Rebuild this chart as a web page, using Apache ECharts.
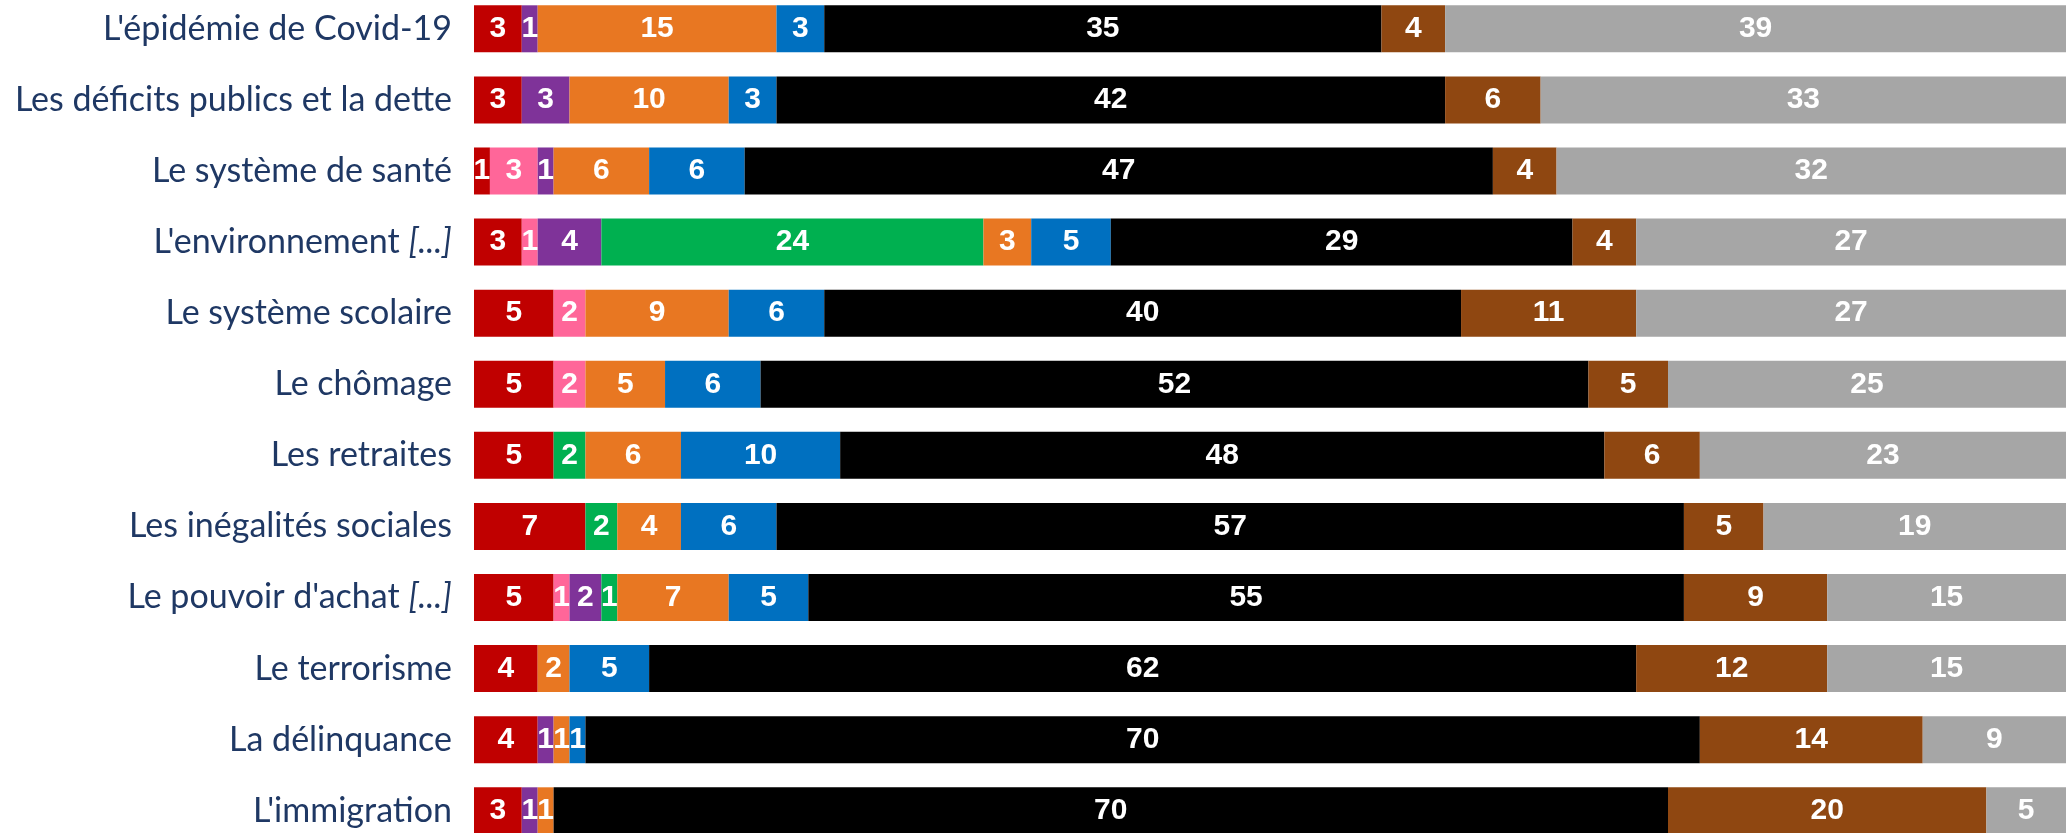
<!DOCTYPE html>
<html>
<head>
<meta charset="utf-8">
<script src="https://cdn.jsdelivr.net/npm/echarts@6/dist/echarts.min.js"></script>
<style>
html,body{margin:0;padding:0;background:#fff;}
#chart{width:2066px;height:833px;}
</style>
</head>
<body>
<div id="chart"></div>
<script>
const categories = [
  "L'épidémie de Covid-19",
  "Les déficits publics et la dette",
  "Le système de santé",
  "L'environnement [...]",
  "Le système scolaire",
  "Le chômage",
  "Les retraites",
  "Les inégalités sociales",
  "Le pouvoir d'achat [...]",
  "Le terrorisme",
  "La délinquance",
  "L'immigration"
];
const seriesNames = ["Rouge", "Rose", "Violet", "Vert", "Orange", "Bleu", "Noir", "Marron", "Gris"];
const red    = [3, 3, 1, 3, 5, 5, 5, 7, 5, 4, 4, 3];
const pink   = [0, 0, 3, 1, 2, 2, 0, 0, 1, 0, 0, 0];
const purple = [1, 3, 1, 4, 0, 0, 0, 0, 2, 0, 1, 1];
const green  = [0, 0, 0, 24, 0, 0, 2, 2, 1, 0, 0, 0];
const orange = [15, 10, 6, 3, 9, 5, 6, 4, 7, 2, 1, 1];
const blue   = [3, 3, 6, 5, 6, 6, 10, 6, 5, 5, 1, 0];
const black  = [35, 42, 47, 29, 40, 52, 48, 57, 55, 62, 70, 70];
const brown  = [4, 6, 4, 4, 11, 5, 6, 5, 9, 12, 14, 20];
const gray   = [39, 33, 32, 27, 27, 25, 23, 19, 15, 15, 9, 5];

const values = [red, pink, purple, green, orange, blue, black, brown, gray];
const colors = ["#C00000", "#FF6699", "#7F3399", "#00B050", "#E87722", "#0070C0", "#000000", "#8F4711", "#A6A6A6"];

const labelFont = "Lato";
const labelSize = 34;

const chart = echarts.init(document.getElementById('chart'), null, {renderer: 'canvas'});
chart.setOption({
  animation: false,
  backgroundColor: '#ffffff',
  grid: {left: 474, right: 0, top: 28.8, height: 782, containLabel: false},
  xAxis: {type: 'value', min: 0, max: 100, show: false},
  yAxis: {
    type: 'category',
    data: categories,
    inverse: true,
    boundaryGap: false,
    axisLine: {show: false},
    axisTick: {show: false},
    splitLine: {show: false},
    axisLabel: {
      margin: 22,
      color: '#1F3864',
      fontFamily: labelFont,
      fontSize: labelSize,
      formatter: function (v) {
        const suffix = ' [...]';
        if (v.endsWith(suffix)) {
          return v.slice(0, -suffix.length) + ' {i|[...]}';
        }
        return v;
      },
      rich: {
        i: {fontStyle: 'italic', color: '#1F3864', fontFamily: labelFont, fontSize: labelSize}
      }
    }
  },
  series: values.map(function (arr, i) {
    return {
      name: seriesNames[i],
      type: 'bar',
      stack: 'total',
      barWidth: 47,
      data: arr,
      itemStyle: {color: colors[i]},
      label: {
        show: true,
        position: 'inside',
        color: '#ffffff',
        fontFamily: 'Liberation Sans',
        fontWeight: 'bold',
        fontSize: 30,
        formatter: function (p) { return p.value ? String(p.value) : ''; }
      }
    };
  })
});
</script>
</body>
</html>
